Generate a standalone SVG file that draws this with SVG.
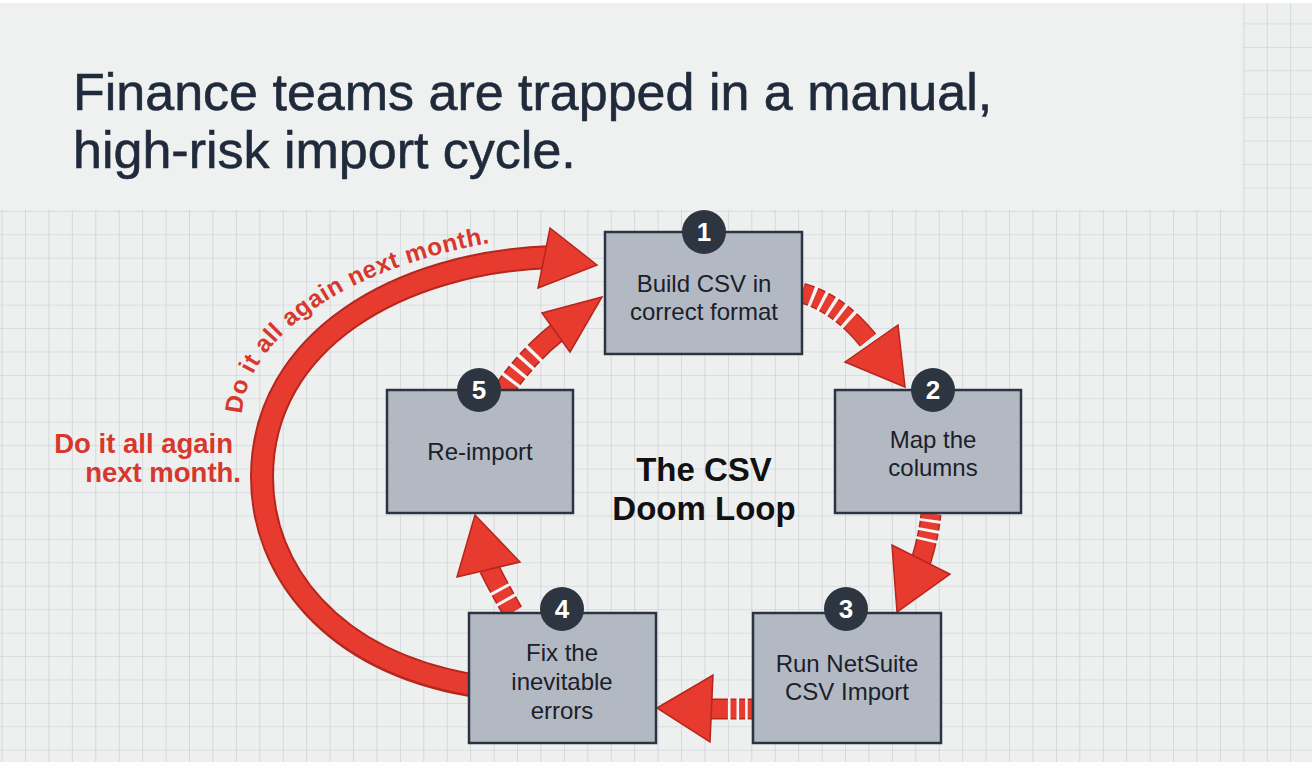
<svg xmlns="http://www.w3.org/2000/svg" width="1312" height="762" viewBox="0 0 1312 762">
  <defs>
    <pattern id="grid" patternUnits="userSpaceOnUse" x="1.57" y="0" width="23.43" height="23.43">
      <path d="M0,0 V23.43 M0,0 H23.43" fill="none" stroke="#c5cace" stroke-width="1.2"/>
    </pattern>
    <path id="loopText" d="M 242,414 C 248,322 385,246 565,234"/>
  </defs>
  <style>
    .node rect { fill:#b3b9c3; stroke:#2b3440; stroke-width:2.5; }
    .node text { font-family:"Liberation Sans", Arial, sans-serif; font-size:24px; fill:#1b2029; text-anchor:middle; }
    .badge circle { fill:#2d3540; }
    .badge text { font-family:"Liberation Sans", Arial, sans-serif; font-size:26px; font-weight:bold; fill:#ffffff; text-anchor:middle; }
    .tailo { fill:none; stroke:#b5261d; stroke-width:21; }
    .tail { fill:none; stroke:#e63b2e; stroke-width:18; }
    .bars { fill:none; stroke:#f3f4f4; stroke-width:23; }
    .head { fill:#e63b2e; stroke:#b5261d; stroke-width:1.5; stroke-linejoin:miter; }
    .red { font-family:"Liberation Sans", Arial, sans-serif; font-weight:bold; fill:#d8372d; }
  </style>

  <rect x="0" y="0" width="1312" height="762" fill="#eef0f0"/>
  <rect x="0" y="0" width="1312" height="762" fill="url(#grid)"/>
  <rect x="0" y="3" width="1243" height="207" fill="#eff1f1"/>
  <rect x="0" y="0" width="1312" height="3" fill="#ffffff"/>

  <g id="title" font-family="'Liberation Sans', Arial, sans-serif" font-size="52" fill="#1f2a3a" stroke="#1f2a3a" stroke-width="0.6">
    <text x="73" y="110">Finance teams are trapped in a manual,</text>
    <text x="73" y="168">high-risk import cycle.</text>
  </g>

  <g id="connectors">
    <!-- big return arc -->
    <path d="M 470,685 C 330,660 262,570 262,477 C 262,340 400,262 552,257" fill="none" stroke="#b5261d" stroke-width="24"/>
    <path d="M 472,685 C 330,660 262,570 262,477 C 262,340 400,262 552,257" fill="none" stroke="#e63b2e" stroke-width="20"/>
    <polygon class="head" points="597,265 550,228 538,288"/>
    <text class="red" font-size="24.5" letter-spacing="0.6"><textPath href="#loopText">Do it all again</textPath></text>
    <text class="red" font-size="24.5" letter-spacing="0.6"><textPath href="#loopText" startOffset="176">next month.</textPath></text>

    <!-- 1 -> 2 -->
    <path class="tailo" d="M 802,293 Q 838,303 868,340"/>
    <path class="tail" d="M 802,293 Q 838,303 868,340"/>
    <path class="bars" pathLength="100" stroke-dasharray="0 12 4 9 4 9 4 9 4 9 4 100" d="M 802,293 Q 838,303 868,340"/>
    <polygon class="head" points="905,387 845,362 898,325"/>

    <!-- 2 -> 3 -->
    <path class="tailo" d="M 931,514 Q 929,535 921,561"/>
    <path class="tail" d="M 931,514 Q 929,535 921,561"/>
    <path class="bars" pathLength="100" stroke-dasharray="0 12 6 14 6 14 6 100" d="M 931,514 Q 929,535 921,561"/>
    <polygon class="head" points="897,612 892,545 950,574"/>

    <!-- 3 -> 4 -->
    <path class="tailo" d="M 752,709 L 709,709"/>
    <path class="tail" d="M 752,709 L 709,709"/>
    <path class="bars" pathLength="100" stroke-dasharray="0 10 6 14 6 14 6 100" d="M 752,709 L 709,709"/>
    <polygon class="head" points="657,708 713,675 710,742"/>

    <!-- 4 -> 5 -->
    <path class="tailo" d="M 513,612 Q 501,592 489,568"/>
    <path class="tail" d="M 513,612 Q 501,592 489,568"/>
    <path class="bars" pathLength="100" stroke-dasharray="0 25 6 18 6 100" d="M 513,612 Q 501,592 489,568"/>
    <polygon class="head" points="475,515 457,577 520,562"/>

    <!-- 5 -> 1 -->
    <path class="tailo" d="M 503,391 Q 528,355 560,330"/>
    <path class="tail" d="M 503,391 Q 528,355 560,330"/>
    <path class="bars" pathLength="100" stroke-dasharray="0 14 4 10 4 10 4 10 4 100" d="M 503,391 Q 528,355 560,330"/>
    <polygon class="head" points="602,297 542,313 570,352"/>
  </g>

  <text class="red" x="233" y="453" font-size="27.5" text-anchor="end">Do it all again</text>
  <text class="red" x="241" y="482" font-size="27.5" text-anchor="end">next month.</text>

  <g id="node1" class="node">
    <rect x="605" y="232" width="197" height="122"/>
    <text x="704" y="292">Build CSV in</text>
    <text x="704" y="320">correct format</text>
    <g class="badge"><circle cx="704" cy="232" r="22"/><text x="704" y="241">1</text></g>
  </g>
  <g id="node2" class="node">
    <rect x="835" y="390" width="186" height="123"/>
    <text x="933" y="448">Map the</text>
    <text x="933" y="476">columns</text>
    <g class="badge"><circle cx="933" cy="390" r="22"/><text x="933" y="399">2</text></g>
  </g>
  <g id="node3" class="node">
    <rect x="753" y="613" width="188" height="130"/>
    <text x="847" y="672">Run NetSuite</text>
    <text x="847" y="700">CSV Import</text>
    <g class="badge"><circle cx="846" cy="609" r="22"/><text x="846" y="618">3</text></g>
  </g>
  <g id="node4" class="node">
    <rect x="469" y="613" width="187" height="130"/>
    <text x="562" y="661">Fix the</text>
    <text x="562" y="690">inevitable</text>
    <text x="562" y="719">errors</text>
    <g class="badge"><circle cx="562" cy="609" r="22"/><text x="562" y="618">4</text></g>
  </g>
  <g id="node5" class="node">
    <rect x="387" y="390" width="186" height="123"/>
    <text x="480" y="460">Re-import</text>
    <g class="badge"><circle cx="479" cy="390" r="22"/><text x="479" y="399">5</text></g>
  </g>

  <g id="center-label" font-family="'Liberation Sans', Arial, sans-serif" font-weight="bold" font-size="33" fill="#111111" text-anchor="middle">
    <text x="704" y="481">The CSV</text>
    <text x="704" y="520">Doom Loop</text>
  </g>
</svg>
